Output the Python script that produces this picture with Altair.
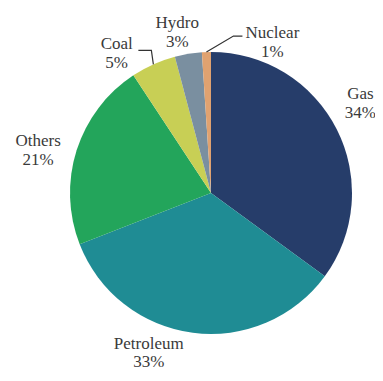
import math
import altair as alt
import pandas as pd

sources = ["Gas", "Petroleum", "Others", "Coal", "Hydro", "Nuclear"]
shares = [34, 33, 21, 5, 3, 1]
colors = ["#263d6a", "#1f8c94", "#23a55b", "#c8cf55", "#7a8fa0", "#e0a270"]

df = pd.DataFrame({
    "source": sources,
    "share": shares,
    "order": list(range(len(sources))),
    "label": [f"{s}\n{v}%" for s, v in zip(sources, shares)],
})

CX, CY, R = 203, 185, 141
FONT = "Liberation Serif"
total = sum(shares)
theta_scale = alt.Scale(domain=[0, total], range=[0, 2 * math.pi])

pie = alt.Chart(df).mark_arc(outerRadius=R, stroke=None).encode(
    theta=alt.Theta("share:Q", stack=True, scale=theta_scale),
    order=alt.Order("order:Q"),
    color=alt.Color("source:N", scale=alt.Scale(domain=sources, range=colors), legend=None),
    x=alt.value(CX), y=alt.value(CY),
)

# per-label nudges and line heights (style, not data)
nudges = {
    "Gas": (-4, -21, 19),
    "Petroleum": (-40, -20, 18),
    "Others": (-9, 0, 19),
    "Coal": (-24, 8, 19),
    "Hydro": (-6, 0, 19),
    "Nuclear": (67, 12, 19),
}
text_layers = []
for s in sources:
    dx, dy, lh = nudges[s]
    text_layers.append(
        alt.Chart(df)
        .transform_stack(stack="share", groupby=[], as_=["s0", "s1"],
                         sort=[alt.SortField("order", "ascending")])
        .transform_calculate(mid="(datum.s0 + datum.s1) / 2")
        .transform_filter(alt.datum.source == s)
        .mark_text(radius=172, dx=dx, dy=dy, font=FONT, fontSize=17,
                   color="#3a3a3a", lineBreak="\n", baseline="middle",
                   align="center", lineHeight=lh)
        .encode(theta=alt.Theta("mid:Q", scale=theta_scale),
                text="label:N", x=alt.value(CX), y=alt.value(CY))
    )

# leader lines computed from slice mid-angles
cum = 0
mids = {}
for s, v in zip(sources, shares):
    mids[s] = (cum + v / 2) / total * 2 * math.pi
    cum += v
leader_shape = {"Coal": [(-2, -14), (-15, -14)], "Nuclear": [(27, -16), (36, -16)]}
rows = []
for s, pts in leader_shape.items():
    a = mids[s]
    ex, ey = CX + R * math.sin(a), CY - R * math.cos(a)
    rows.append({"source": s, "step": 0, "px": ex, "py": ey})
    for i, (ox, oy) in enumerate(pts):
        rows.append({"source": s, "step": i + 1, "px": ex + ox, "py": ey + oy})
ldf = pd.DataFrame(rows)
leaders = alt.Chart(ldf).mark_line(color="#333333", strokeWidth=1.2).encode(
    x=alt.X("px:Q", scale=None),
    y=alt.Y("py:Q", scale=None),
    detail="source:N",
    order="step:Q",
)

chart = alt.layer(pie, leaders, *text_layers).properties(
    width=367, height=365,
    autosize=alt.AutoSizeParams(type="none"),
    padding=0,
).configure_view(stroke=None)

chart.save("out.html", embed_options={"renderer": "svg", "actions": False})
